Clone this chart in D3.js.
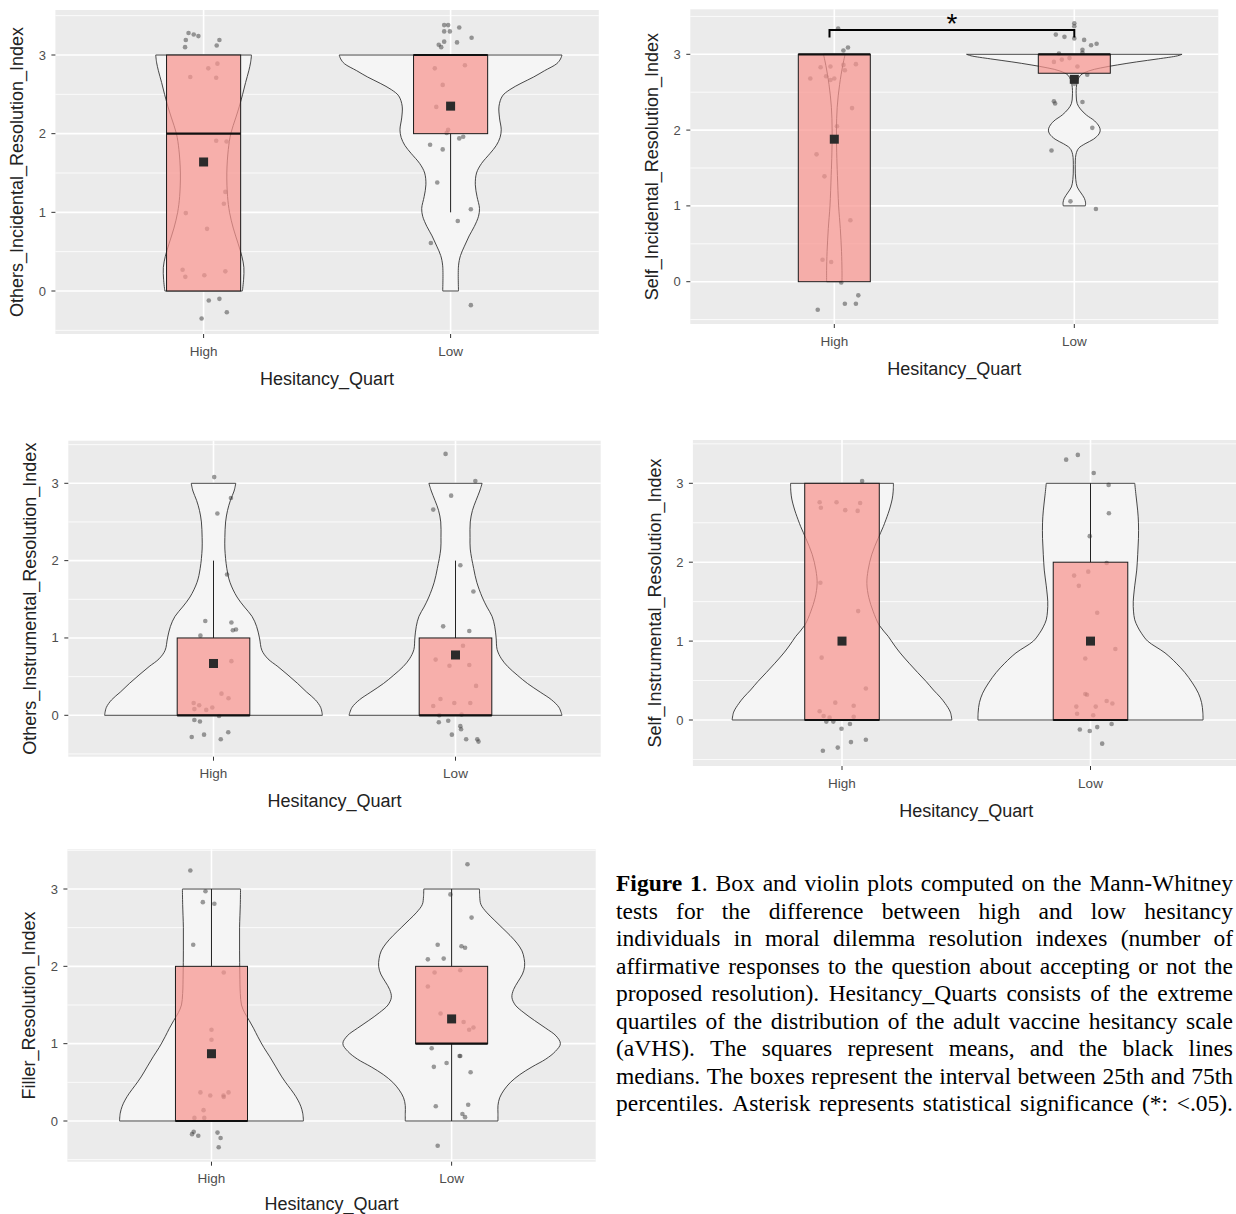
<!DOCTYPE html>
<html>
<head>
<meta charset="utf-8">
<script src="https://cdn.jsdelivr.net/npm/d3@7"></script>
<style>
  body { margin: 0; background: #fff; }
</style>
</head>
<body>
<svg id="fig"></svg>
<script>
"use strict";

// ---- data ----
const groups = ["High", "Low"];
const yBreaks = [0, 1, 2, 3];
const yMinor = [-0.5, 0.5, 1.5, 2.5, 3.5];

// box stats: [lower whisker, q1, median, q3, upper whisker] for High, Low
const boxOthersInc = [[0, 0, 2, 3, 3], [1, 2, 3, 3, 3]];
const boxSelfInc = [[0, 0, 3, 3, 3], [2.75, 2.75, 3, 3, 3]];
const boxOthersIns = [[0, 0, 0, 1, 2], [0, 0, 0, 1, 2]];
const boxSelfIns = [[0, 0, 0, 3, 3], [0, 0, 0, 2, 3]];
const boxFiller = [[0, 0, 0, 2, 3], [0, 1, 1, 2, 3]];

// means (High, Low)
const meanOthersInc = [1.64, 2.35];
const meanSelfInc = [1.88, 2.67];
const meanOthersIns = [0.67, 0.78];
const meanSelfIns = [1.0, 1.0];
const meanFiller = [0.87, 1.32];

// violin outlines: [value, half width in category units]
const violinOiHigh = [[3,0.194],[2.9,0.19],[2.8,0.183],[2.65,0.17],[2.5,0.158],[2.35,0.145],[2.2,0.13],[2.0,0.11],[1.8,0.1],[1.5,0.094],[1.2,0.097],[1.0,0.105],[0.8,0.12],[0.6,0.14],[0.44,0.155],[0.3,0.163],[0.15,0.162],[0,0.157]];
const violinOiLow = [[3,0.451],[2.95,0.445],[2.89,0.43],[2.8,0.38],[2.72,0.336],[2.64,0.285],[2.56,0.24],[2.48,0.21],[2.35,0.196],[2.2,0.198],[2.05,0.205],[1.95,0.2],[1.85,0.185],[1.75,0.16],[1.62,0.125],[1.5,0.105],[1.35,0.1],[1.2,0.107],[1.05,0.117],[0.95,0.113],[0.82,0.096],[0.7,0.075],[0.57,0.056],[0.45,0.04],[0.32,0.032],[0,0.032]];
const violinSiHigh = [[3,0.045],[2.85,0.035],[2.6,0.022],[2.3,0.012],[2.0,0.009],[1.7,0.01],[1.4,0.013],[1.0,0.018],[0.7,0.025],[0.4,0.03],[0.15,0.032],[0,0.032]];
const violinSiLow = [[3,0.449],[2.98,0.43],[2.94,0.35],[2.9,0.26],[2.86,0.18],[2.82,0.11],[2.78,0.06],[2.72,0.025],[2.6,0.01],[2.45,0.008],[2.35,0.012],[2.28,0.025],[2.2,0.05],[2.12,0.085],[2.05,0.103],[2.0,0.108],[1.95,0.103],[1.88,0.08],[1.82,0.045],[1.76,0.018],[1.68,0.007],[1.5,0.004],[1.35,0.006],[1.25,0.012],[1.17,0.028],[1.1,0.042],[1.04,0.047],[1.0,0.046]];
const violinOnHigh = [[3,0.092],[2.9,0.085],[2.78,0.07],[2.65,0.058],[2.5,0.05],[2.3,0.047],[2.15,0.047],[1.9,0.055],[1.72,0.068],[1.53,0.097],[1.4,0.128],[1.28,0.159],[1.15,0.178],[1.0,0.19],[0.84,0.2],[0.73,0.225],[0.63,0.266],[0.52,0.308],[0.41,0.348],[0.3,0.385],[0.2,0.421],[0.1,0.443],[0,0.45]];
const violinOnLow = [[3,0.11],[2.9,0.1],[2.78,0.085],[2.65,0.07],[2.5,0.061],[2.3,0.06],[2.15,0.061],[1.9,0.075],[1.72,0.088],[1.53,0.11],[1.4,0.13],[1.28,0.151],[1.15,0.162],[1.0,0.168],[0.85,0.172],[0.73,0.19],[0.63,0.216],[0.52,0.255],[0.41,0.298],[0.3,0.35],[0.2,0.397],[0.1,0.428],[0,0.44]];
const violinSnHigh = [[3,0.207],[2.9,0.206],[2.8,0.202],[2.7,0.194],[2.62,0.186],[2.45,0.166],[2.3,0.145],[2.1,0.12],[1.9,0.105],[1.73,0.1],[1.55,0.108],[1.38,0.125],[1.2,0.15],[1.06,0.186],[0.95,0.21],[0.85,0.234],[0.72,0.27],[0.6,0.305],[0.49,0.338],[0.38,0.368],[0.29,0.395],[0.21,0.415],[0.1,0.436],[0,0.442]];
const violinSnLow = [[3,0.178],[2.85,0.183],[2.65,0.19],[2.5,0.193],[2.3,0.193],[2.1,0.19],[1.9,0.186],[1.7,0.178],[1.5,0.172],[1.38,0.173],[1.27,0.178],[1.18,0.19],[1.1,0.205],[1.0,0.23],[0.85,0.3],[0.72,0.345],[0.6,0.38],[0.47,0.41],[0.34,0.434],[0.22,0.447],[0.1,0.452],[0,0.453]];
const violinFiHigh = [[3,0.121],[2.8,0.12],[2.5,0.117],[2.2,0.117],[1.9,0.118],[1.65,0.12],[1.5,0.125],[1.4,0.138],[1.3,0.157],[1.2,0.175],[1.09,0.193],[0.95,0.218],[0.83,0.243],[0.7,0.268],[0.57,0.293],[0.46,0.318],[0.36,0.342],[0.27,0.36],[0.19,0.372],[0.1,0.38],[0,0.383]];
const violinFiLow = [[3,0.116],[2.9,0.117],[2.8,0.122],[2.7,0.145],[2.6,0.177],[2.5,0.21],[2.4,0.243],[2.3,0.272],[2.2,0.293],[2.1,0.302],[2.0,0.304],[1.9,0.295],[1.8,0.276],[1.7,0.258],[1.6,0.251],[1.5,0.265],[1.4,0.301],[1.3,0.345],[1.2,0.392],[1.1,0.435],[1.0,0.453],[0.9,0.432],[0.8,0.392],[0.7,0.335],[0.6,0.284],[0.5,0.245],[0.4,0.218],[0.3,0.2],[0.2,0.193],[0.1,0.193],[0,0.193]];

// jittered observations: [horizontal offset in category units, jittered value]
const ptsOiHigh = [[-0.061,3.28],[-0.04,3.26],[-0.021,3.24],[-0.072,3.19],[-0.075,3.10],[0.064,3.19],[0.053,3.12],[0.056,2.89],[0.019,2.83],[-0.054,2.72],[0.051,2.71],[0.051,1.91],[0.093,1.90],[0.088,1.26],[0.082,1.11],[-0.072,0.99],[0.014,0.79],[-0.085,0.27],[-0.074,0.18],[0.003,0.20],[0.088,0.25],[0.021,-0.12],[0.064,-0.10],[0.094,-0.27],[-0.008,-0.35]];
const ptsOiLow = [[-0.026,3.38],[-0.01,3.38],[0.035,3.35],[-0.026,3.30],[-0.003,3.30],[0.085,3.22],[-0.026,3.17],[0.026,3.16],[-0.048,3.13],[-0.038,3.10],[0.058,2.87],[-0.064,2.83],[-0.032,2.62],[-0.058,2.34],[-0.01,2.05],[-0.016,2.01],[0.051,1.96],[0.035,1.94],[-0.083,1.86],[-0.032,1.80],[-0.054,1.38],[0.082,1.04],[0.029,0.89],[-0.08,0.61],[0.082,-0.18]];
const ptsSiHigh = [[0.016,3.34],[0.057,3.09],[0.038,3.05],[-0.057,2.83],[-0.016,2.84],[0.038,2.86],[0.09,2.87],[0.044,2.79],[-0.034,2.71],[-0.1,2.68],[0,2.68],[-0.016,2.66],[0.074,2.29],[0.011,2.05],[-0.074,1.68],[-0.041,1.39],[0.067,0.81],[-0.049,0.29],[-0.013,0.26],[0.029,-0.01],[0.1,-0.18],[0.044,-0.29],[0.09,-0.29],[-0.069,-0.37]];
const ptsSiLow = [[0,3.41],[0,3.37],[-0.077,3.26],[-0.041,3.23],[0,3.21],[0.041,3.19],[0.07,3.12],[0.093,3.14],[0.034,3.06],[0.034,3.02],[-0.064,3.01],[-0.085,2.9],[-0.052,2.93],[-0.02,2.95],[0.013,2.84],[0.054,2.73],[0,2.61],[-0.085,2.38],[-0.08,2.35],[0.034,2.37],[0.075,2.03],[-0.095,1.73],[-0.016,1.06],[0.09,0.96]];
const ptsOnHigh = [[0.003,3.08],[0.072,2.81],[0.016,2.61],[0.056,1.82],[-0.034,1.22],[0.074,1.20],[0.08,1.10],[0.093,1.11],[-0.054,1.03],[0.074,0.70],[0.033,0.28],[0.062,0.22],[-0.082,0.16],[-0.059,0.13],[-0.005,0.10],[-0.03,0.07],[-0.079,0.08],[0.023,-0.01],[-0.079,-0.06],[-0.056,-0.08],[0.061,-0.22],[-0.039,-0.25],[-0.09,-0.28],[0.03,-0.31]];
const ptsOnLow = [[-0.041,3.38],[0.082,3.03],[-0.018,2.84],[-0.092,2.66],[0.02,1.94],[0.074,1.60],[-0.051,1.15],[0.057,1.09],[0.031,0.90],[-0.082,0.72],[-0.025,0.64],[0.057,0.65],[0.085,0.38],[-0.062,0.21],[-0.005,0.16],[0.061,0.16],[-0.092,0.12],[-0.067,0.00],[0.025,0.01],[-0.069,-0.09],[-0.03,-0.07],[0.02,-0.14],[0.023,-0.18],[-0.015,-0.25],[0.044,-0.31],[0.09,-0.31],[0.095,-0.34]];
const ptsSnHigh = [[0.081,3.03],[-0.09,2.76],[-0.022,2.76],[0.073,2.75],[-0.085,2.69],[0.013,2.66],[0.063,2.65],[-0.087,1.74],[0.065,1.38],[-0.082,0.79],[0.096,0.40],[-0.027,0.22],[0.047,0.18],[-0.09,0.11],[-0.074,0.05],[-0.05,0.03],[0.047,0.04],[-0.063,-0.02],[-0.035,-0.02],[0.032,-0.05],[-0.002,-0.11],[0.096,-0.25],[0.036,-0.28],[-0.017,-0.35],[-0.077,-0.39]];
const ptsSnLow = [[-0.098,3.30],[-0.051,3.36],[0.013,3.13],[0.073,2.98],[0.074,2.62],[-0.003,2.33],[0.065,1.99],[-0.066,1.83],[-0.009,1.88],[-0.047,1.70],[0.027,1.36],[0.1,0.90],[-0.021,0.78],[-0.021,0.33],[-0.014,0.32],[0.065,0.24],[0.088,0.21],[-0.057,0.17],[0.021,0.17],[-0.054,0.08],[0.011,0.06],[0.085,-0.05],[0.027,-0.09],[-0.043,-0.12],[-0.003,-0.14],[0.047,-0.30]];
const ptsFiHigh = [[-0.088,3.24],[-0.025,2.97],[-0.036,2.83],[0.012,2.81],[-0.076,2.28],[0.051,1.92],[0,1.18],[0,1.05],[-0.046,0.37],[-0.005,0.33],[0.05,0.33],[0.051,0.31],[0.071,0.37],[-0.033,0.14],[-0.071,0.04],[-0.03,0.04],[-0.074,-0.14],[-0.081,-0.17],[-0.055,-0.19],[0.025,-0.15],[0.038,-0.22],[0.03,-0.34]];
const ptsFiLow = [[0.066,3.32],[-0.005,2.93],[0.083,2.63],[-0.058,2.28],[0.041,2.26],[0.056,2.24],[-0.099,2.09],[-0.033,2.10],[-0.071,1.92],[0.036,1.95],[-0.099,1.74],[-0.046,1.39],[0.05,1.28],[0.073,1.18],[0.091,1.21],[-0.083,0.94],[0.033,0.84],[0.036,0.84],[-0.021,0.75],[-0.074,0.70],[0.079,0.63],[-0.066,0.19],[0.069,0.21],[0.045,0.09],[0.056,0.05],[-0.058,-0.32]];

// significance bracket on the self incidental panel
const signifSelfInc = { xmin: 0.98, xmax: 2.0, y: 3.32, tip: 0.1, label: "*" };

const captionLines = [
  "Figure 1. Box and violin plots computed on the Mann-Whitney",
  "tests for the difference between high and low hesitancy",
  "individuals in moral dilemma resolution indexes (number of",
  "affirmative responses to the question about accepting or not the",
  "proposed resolution). Hesitancy_Quarts consists of the extreme",
  "quartiles of the distribution of the adult vaccine hesitancy scale",
  "(aVHS). The squares represent means, and the black lines",
  "medians. The boxes represent the interval between 25th and 75th",
  "percentiles. Asterisk represents statistical significance (*:  <.05)."
];

// ---- layout ----
const W = 1236, H = 1214;
const panels = [
  { title: "Others_Incidental_Resolution_Index", box: boxOthersInc, mean: meanOthersInc,
    violin: [violinOiHigh, violinOiLow], pts: [ptsOiHigh, ptsOiLow],
    left: 55.4, right: 598.8, top: 10, bottom: 334, py0: 291, py3: 55 },
  { title: "Self_Incidental_Resolution_Index", box: boxSelfInc, mean: meanSelfInc,
    violin: [violinSiHigh, violinSiLow], pts: [ptsSiHigh, ptsSiLow], signif: signifSelfInc,
    left: 690.3, right: 1218.3, top: 9.3, bottom: 324, py0: 281.7, py3: 54.3 },
  { title: "Others_Instrumental_Resolution_Index", box: boxOthersIns, mean: meanOthersIns,
    violin: [violinOnHigh, violinOnLow], pts: [ptsOnHigh, ptsOnLow],
    left: 68.3, right: 600.7, top: 440.7, bottom: 756.7, py0: 715.3, py3: 483.3 },
  { title: "Self_Instrumental_Resolution_Index", box: boxSelfIns, mean: meanSelfIns,
    violin: [violinSnHigh, violinSnLow], pts: [ptsSnHigh, ptsSnLow],
    left: 692.9, right: 1239.6, top: 440, bottom: 766, py0: 720, py3: 483.3 },
  { title: "Filler_Resolution_Index", box: boxFiller, mean: meanFiller,
    violin: [violinFiHigh, violinFiLow], pts: [ptsFiHigh, ptsFiLow],
    left: 67.4, right: 595.7, top: 849.3, bottom: 1161.7, py0: 1121, py3: 889 }
];

const svg = d3.select("#fig")
  .attr("width", W)
  .attr("height", H)
  .attr("viewBox", [0, 0, W, H])
  .style("font-family", "'Liberation Sans', Arial, sans-serif");

svg.append("rect").attr("width", W).attr("height", H).attr("fill", "#fff");

const boxHalf = 0.15;

panels.forEach((p, pi) => {
  const x = d3.scaleLinear().domain([0.4, 2.6]).range([p.left, p.right]);
  const y = d3.scaleLinear().domain([0, 3]).range([p.py0, p.py3]);
  const yLo = y.invert(p.bottom), yHi = y.invert(p.top);

  const g = svg.append("g");
  const clipId = "clip" + pi;
  g.append("clipPath").attr("id", clipId)
    .append("rect")
    .attr("x", p.left).attr("y", p.top)
    .attr("width", p.right - p.left).attr("height", p.bottom - p.top);

  // background + grid
  g.append("rect")
    .attr("x", p.left).attr("y", p.top)
    .attr("width", p.right - p.left).attr("height", p.bottom - p.top)
    .attr("fill", "#EBEBEB");

  g.selectAll("line.minor")
    .data(yMinor.filter((v) => v > yLo && v < yHi))
    .join("line")
    .attr("x1", p.left).attr("x2", p.right)
    .attr("y1", (d) => y(d)).attr("y2", (d) => y(d))
    .attr("stroke", "#fff").attr("stroke-width", 0.8);

  g.selectAll("line.major")
    .data(yBreaks)
    .join("line")
    .attr("x1", p.left).attr("x2", p.right)
    .attr("y1", (d) => y(d)).attr("y2", (d) => y(d))
    .attr("stroke", "#fff").attr("stroke-width", 1.6);

  g.selectAll("line.vmajor")
    .data(groups)
    .join("line")
    .attr("x1", (d, i) => x(i + 1)).attr("x2", (d, i) => x(i + 1))
    .attr("y1", p.top).attr("y2", p.bottom)
    .attr("stroke", "#fff").attr("stroke-width", 1.6);

  const plot = g.append("g").attr("clip-path", `url(#${clipId})`);

  // violins
  groups.forEach((grp, i) => {
    const cx = i + 1;
    const area = d3.area()
      .curve(d3.curveCatmullRom)
      .y((d) => y(d[0]))
      .x0((d) => x(cx - d[1]))
      .x1((d) => x(cx + d[1]));
    plot.append("path")
      .datum(p.violin[i])
      .attr("d", area)
      .attr("fill", "#F5F5F5")
      .attr("stroke", "#333")
      .attr("stroke-width", 0.9);
  });

  // whiskers
  p.box.forEach((b, i) => {
    const cx = x(i + 1);
    [[b[0], b[1]], [b[3], b[4]]].forEach(([a, c]) => {
      if (a === c) return;
      plot.append("line")
        .attr("x1", cx).attr("x2", cx)
        .attr("y1", y(a)).attr("y2", y(c))
        .attr("stroke", "#222").attr("stroke-width", 1);
    });
  });

  // jittered points
  p.pts.forEach((arr, i) => {
    plot.selectAll(null)
      .data(arr)
      .join("circle")
      .attr("cx", (d) => x(i + 1 + d[0]))
      .attr("cy", (d) => y(d[1]))
      .attr("r", 2.3)
      .attr("fill", "#333")
      .attr("fill-opacity", 0.48);
  });

  // boxes
  p.box.forEach((b, i) => {
    const x0 = x(i + 1 - boxHalf), x1 = x(i + 1 + boxHalf);
    plot.append("rect")
      .attr("x", x0).attr("y", y(b[3]))
      .attr("width", x1 - x0).attr("height", y(b[1]) - y(b[3]))
      .attr("fill", "#F8948F").attr("fill-opacity", 0.72)
      .attr("stroke", "#1a1a1a").attr("stroke-width", 1);
    plot.append("line")
      .attr("x1", x0).attr("x2", x1)
      .attr("y1", y(b[2])).attr("y2", y(b[2]))
      .attr("stroke", "#111").attr("stroke-width", 2.2);
  });

  // means
  plot.selectAll("rect.mean")
    .data(p.mean)
    .join("rect")
    .attr("x", (d, i) => x(i + 1) - 4.5)
    .attr("y", (d) => y(d) - 4.5)
    .attr("width", 9).attr("height", 9)
    .attr("fill", "#2b2b2b");

  // significance bracket
  if (p.signif) {
    const s = p.signif;
    const path = d3.path();
    path.moveTo(x(s.xmin), y(s.y - s.tip));
    path.lineTo(x(s.xmin), y(s.y));
    path.lineTo(x(s.xmax), y(s.y));
    path.lineTo(x(s.xmax), y(s.y - s.tip));
    g.append("path").attr("d", path.toString())
      .attr("fill", "none").attr("stroke", "#000").attr("stroke-width", 2);
    g.append("text")
      .attr("x", x((s.xmin + s.xmax) / 2)).attr("y", y(s.y) + 3)
      .attr("text-anchor", "middle")
      .attr("font-size", 28)
      .attr("fill", "#000")
      .text(s.label);
  }

  // y axis
  g.selectAll("line.ytick")
    .data(yBreaks)
    .join("line")
    .attr("x1", p.left - 4).attr("x2", p.left)
    .attr("y1", (d) => y(d)).attr("y2", (d) => y(d))
    .attr("stroke", "#333").attr("stroke-width", 1);
  g.selectAll("text.ytick")
    .data(yBreaks)
    .join("text")
    .attr("x", p.left - 9.5)
    .attr("y", (d) => y(d) + 4.5)
    .attr("text-anchor", "end")
    .attr("font-size", 13)
    .attr("fill", "#4D4D4D")
    .text((d) => d);

  // x axis
  g.selectAll("line.xtick")
    .data(groups)
    .join("line")
    .attr("x1", (d, i) => x(i + 1)).attr("x2", (d, i) => x(i + 1))
    .attr("y1", p.bottom).attr("y2", p.bottom + 4)
    .attr("stroke", "#333").attr("stroke-width", 1);
  g.selectAll("text.xtick")
    .data(groups)
    .join("text")
    .attr("x", (d, i) => x(i + 1))
    .attr("y", p.bottom + 21.5)
    .attr("text-anchor", "middle")
    .attr("font-size", 13.5)
    .attr("fill", "#4D4D4D")
    .text((d) => d);

  // titles
  g.append("text")
    .attr("x", (p.left + p.right) / 2)
    .attr("y", Math.min(p.bottom + 50.5, H - 4))
    .attr("text-anchor", "middle")
    .attr("font-size", 18)
    .attr("fill", "#222")
    .text("Hesitancy_Quart");
  g.append("text")
    .attr("transform", `translate(${p.left - 32},${(p.top + p.bottom) / 2}) rotate(-90)`)
    .attr("text-anchor", "middle")
    .attr("font-size", 18)
    .attr("fill", "#222")
    .text(p.title);
});

// ---- caption (justified) ----
const capLeft = 616, capRight = 1233, capBase = 891, capStep = 27.5, capSize = 23.5;
const cap = svg.append("g")
  .style("font-family", "'Liberation Serif', 'Times New Roman', serif")
  .attr("font-size", capSize)
  .attr("fill", "#000");

captionLines.forEach((line, li) => {
  const words = line.split(/\s+/);
  const nodes = words.map((w, wi) => {
    const t = cap.append("text").attr("y", capBase + li * capStep);
    if (li === 0 && wi === 0) {
      t.append("tspan").attr("font-weight", "bold").text(w);
    } else if (li === 0 && wi === 1) {
      t.append("tspan").attr("font-weight", "bold").text(w.replace(".", ""));
      t.append("tspan").text(".");
    } else {
      t.text(w);
    }
    return t;
  });
  const widths = nodes.map((t) => t.node().getComputedTextLength());
  const total = d3.sum(widths);
  const gap = (capRight - capLeft - total) / (words.length - 1);
  let cx = capLeft;
  nodes.forEach((t, i) => {
    t.attr("x", cx);
    cx += widths[i] + gap;
  });
});
</script>
</body>
</html>
